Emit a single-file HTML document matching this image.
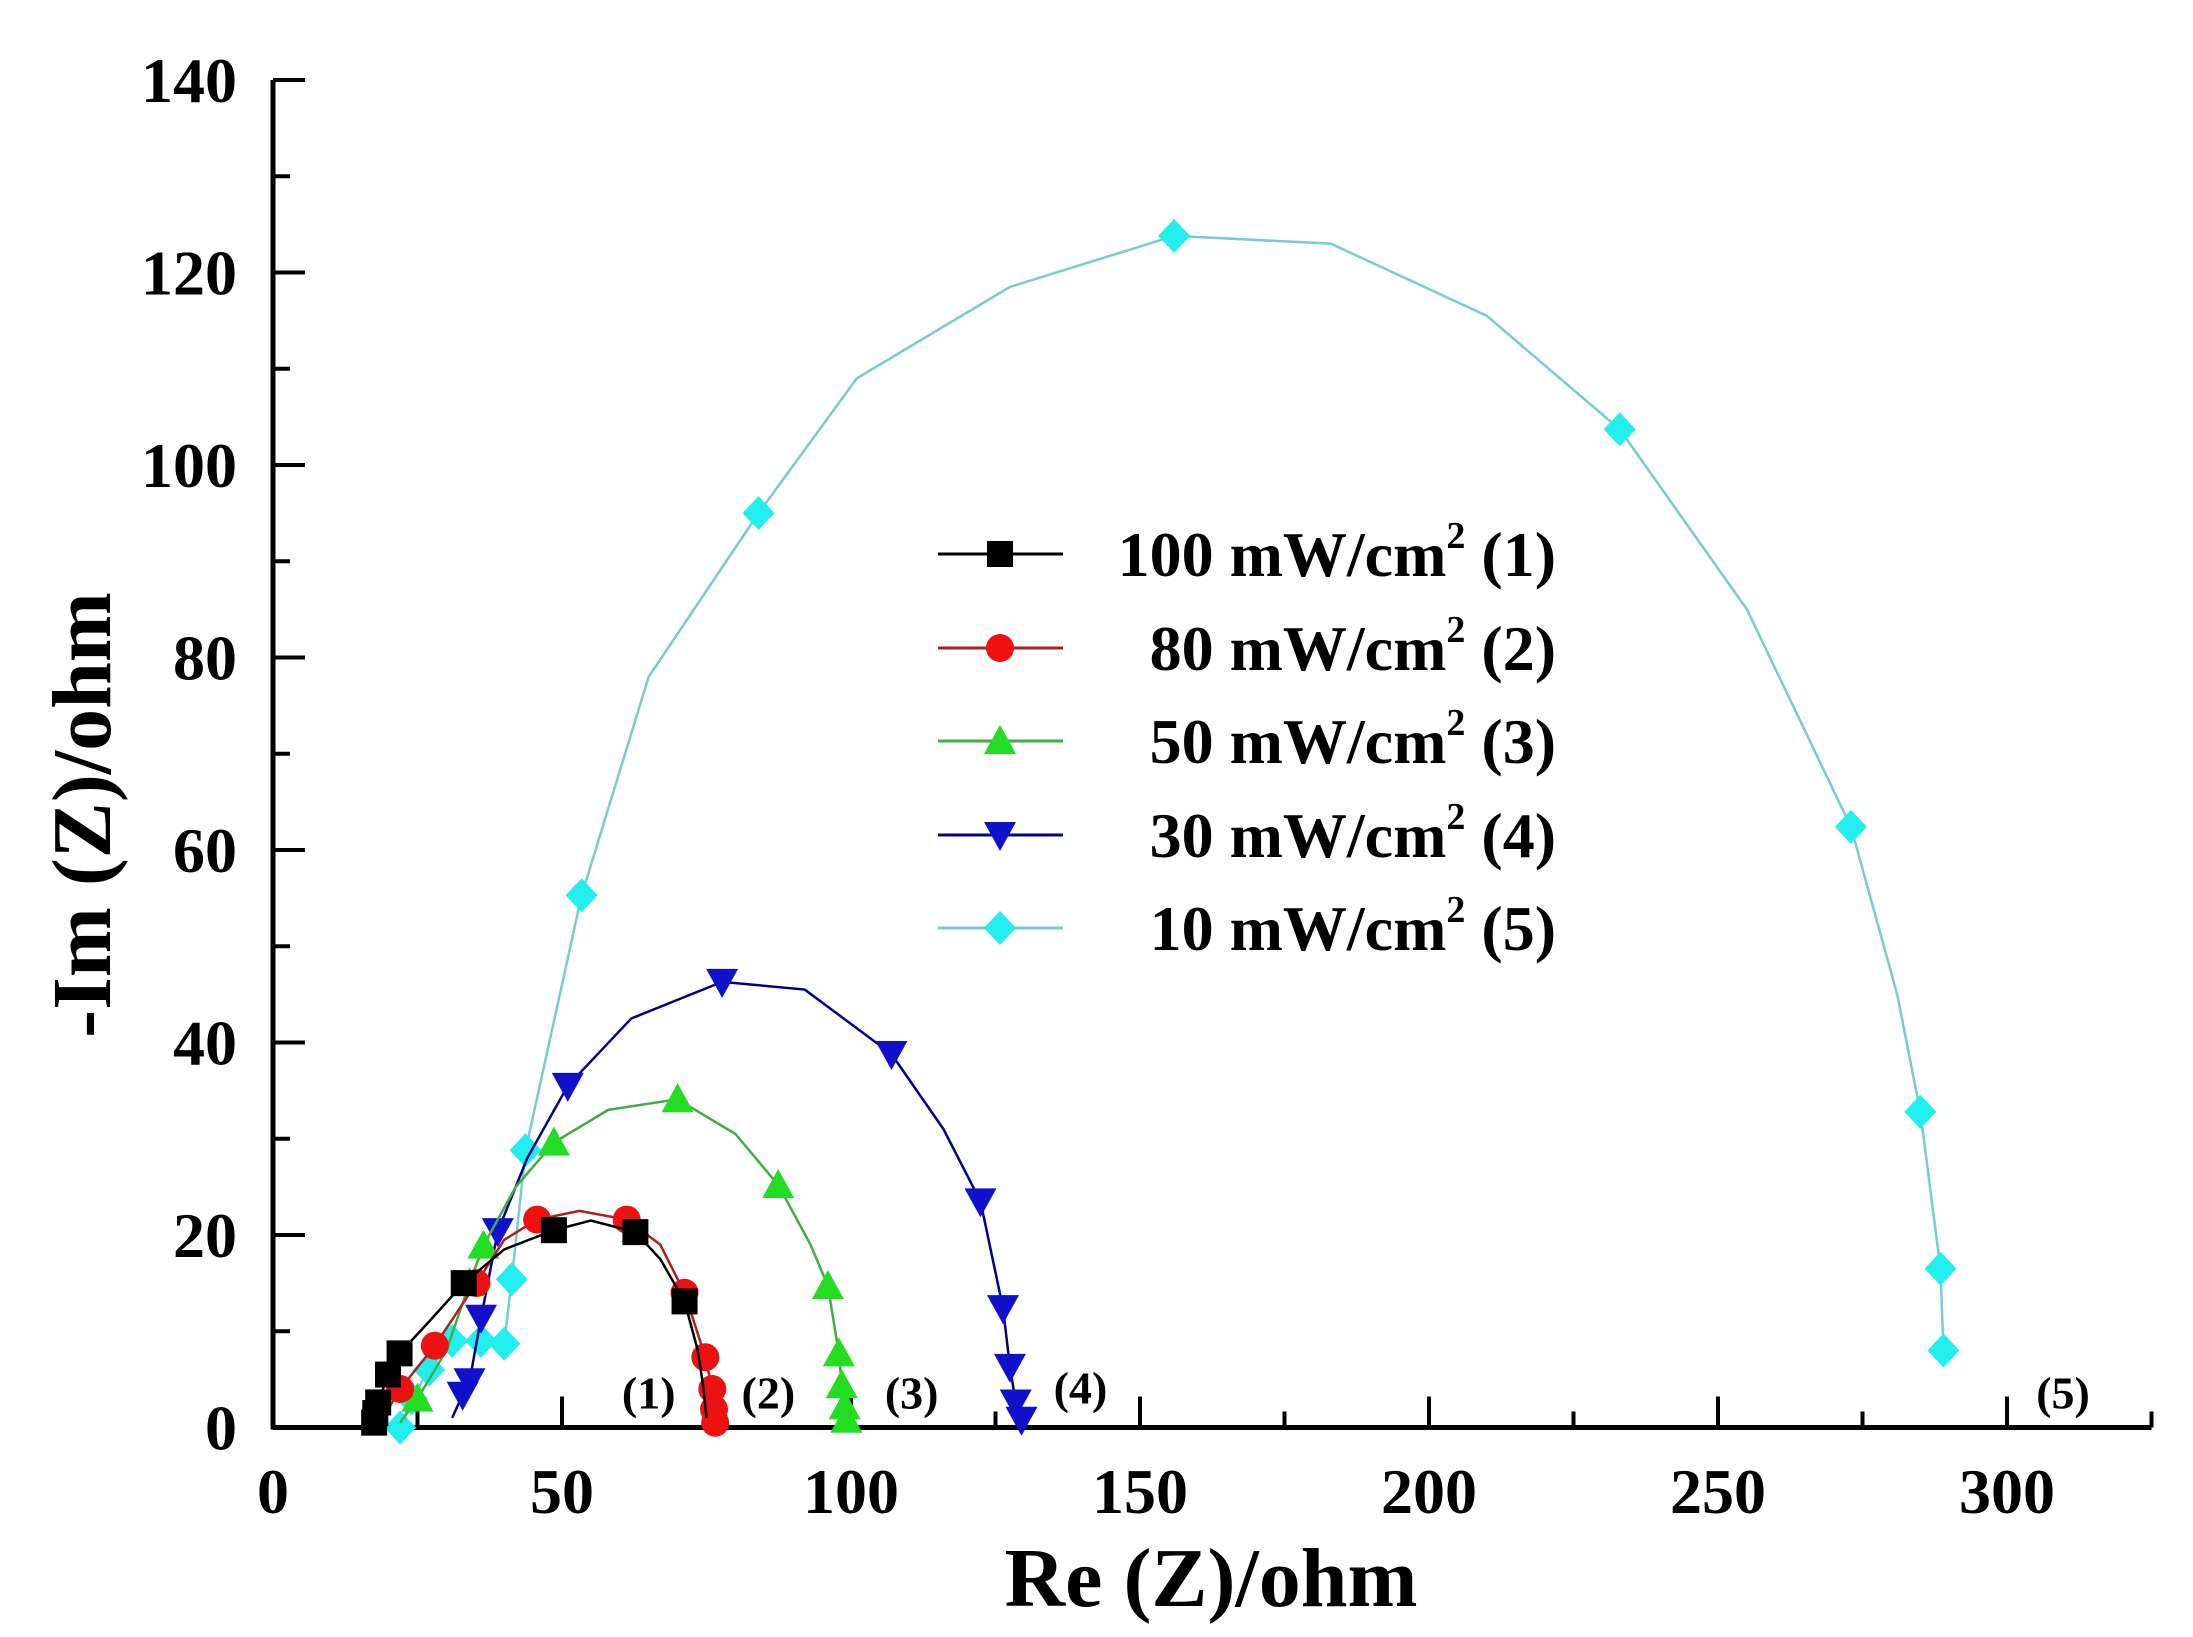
<!DOCTYPE html>
<html><head><meta charset="utf-8"><style>
html,body{margin:0;padding:0;background:#fff;}
svg{display:block;font-family:"Liberation Serif",serif;font-weight:bold;}
</style></head><body>
<svg id="chart" width="2193" height="1637" viewBox="0 0 2193 1637" xmlns="http://www.w3.org/2000/svg">
<g id="axes"></g>
<g id="plot"></g>
<g id="legend"></g>
<text x="1211" y="1606" font-size="84" text-anchor="middle">Re (Z)/ohm</text>
<text transform="translate(110,815) rotate(-90)" font-size="84" text-anchor="middle">-Im (Z)/ohm</text>
</svg>
<script>
const xTicks = [0,50,100,150,200,250,300];
const yTicks = [0,20,40,60,80,100,120,140];
const seriesNames = ["100 mW/cm","80 mW/cm","50 mW/cm","30 mW/cm","10 mW/cm"];
const seriesTags = ["(1)","(2)","(3)","(4)","(5)"];
const s1x = [17.5,17.7,18.2,19.9,21.9,27,33,40,48.6,55,62.7,67,71.2,73.5,74.5,75];
const s1y = [0.5,1.5,2.6,5.5,7.7,11,15,18.5,20.5,21.5,20.3,17.5,13.1,8,4,1];
const s1m = [1,1,1,1,1,0,1,0,1,0,1,0,1,0,0,0];
const s2x = [19,22,28,35.2,40,45.7,53,61.2,67,71.2,74.8,76,76.3,76.5];
const s2y = [1,4,8.5,15,19.5,21.6,22.5,21.6,19,14,7.3,4,1.9,0.5];
const s2m = [0,1,1,1,0,1,0,1,0,1,1,1,1,1];
const s3x = [22,25,30,34,36.4,42,48.6,58,70,80,87.4,93,96,97.9,98.4,98.9,99.2];
const s3y = [0.5,3,8,15,18.9,25,29.6,33,34.1,30.5,25.2,19,14.7,7.7,4.4,2.2,0.8];
const s3m = [0,1,0,1,1,0,1,0,1,0,1,0,1,1,1,1,1];
const s4x = [31,32.8,34,36,38.9,44,51,62,77.7,92,107,116,122.4,126.3,127.5,128.5,129.5];
const s4y = [1,3.4,4.8,11.4,20.4,28,35.5,42.5,46.3,45.5,38.8,31,23.5,12.4,6.3,2.6,0.8];
const s4m = [0,1,1,1,1,0,1,0,1,0,1,0,1,1,1,1,1];
const s5x = [22,24,27,31,36,40,41.3,43.7,53.4,65,84,101,127.5,155.9,183,210,233,255,273,281,285,288.5,289];
const s5y = [0,3,6,9,9,8.7,15.4,28.8,55.3,78,95,109,118.5,123.8,123,115.5,103.7,85,62.4,45,32.8,16.5,8];
const s5m = [1,1,1,1,1,1,1,1,1,0,1,0,0,1,0,0,1,0,1,0,1,1,1];
const tagX = [65,85.7,110.5,139.7,309.7];
const tagY = [2,2,2,2.5,2];

const NS="http://www.w3.org/2000/svg";
const X0=273, Y0=1427.5, PX=5.78, PY=9.625;
function sx(v){return X0+v*PX;}
function sy(v){return Y0-v*PY;}
function mk(tag,attrs,parent){const e=document.createElementNS(NS,tag);for(const k in attrs)e.setAttribute(k,attrs[k]);parent.appendChild(e);return e;}
const axes=document.getElementById('axes'),plot=document.getElementById('plot'),legend=document.getElementById('legend');

let ax=mk('line',{x1:sx(0),y1:sy(0),x2:sx(325),y2:sy(0),stroke:'#000','stroke-width':5},axes);


let ay=mk('line',{x1:sx(0),y1:sy(0)+2,x2:sx(0),y2:sy(140),stroke:'#000','stroke-width':5},axes);


for(let v=0;v<=325;v+=25){
  const major=v%50===0;
  const t=mk('line',{x1:sx(v),y1:sy(0),x2:sx(v),y2:sy(0)-(major?31:16),stroke:'#000','stroke-width':4},axes);
  
  
}
xTicks.forEach(v=>{
  const t=mk('text',{x:sx(v),y:1513,'font-size':64,'text-anchor':'middle'},axes);t.textContent=v;
  
  
});
for(let v=0;v<=140;v+=10){
  const major=v%20===0;
  const t=mk('line',{x1:sx(0),y1:sy(v),x2:sx(0)+(major?32:17),y2:sy(v),stroke:'#000','stroke-width':4},axes);
  
  
}
yTicks.forEach(v=>{
  const t=mk('text',{x:237,y:sy(v)+22,'font-size':64,'text-anchor':'end'},axes);t.textContent=v;
  
  
});

const colors=['#000000','#ee1111','#22dd22','#1111cc','#22eeee'];
const lineColors=['#000000','#aa2222','#44aa44','#000088','#77cccc'];
const shapes=['square','circle','up','down','diamond'];
const SX=[s1x,s2x,s3x,s4x,s5x],SY=[s1y,s2y,s3y,s4y,s5y],SM=[s1m,s2m,s3m,s4m,s5m];
function marker(shape,cx,cy,col,parent){
  const r=13;let e;
  if(shape==='square') e=mk('rect',{x:cx-r,y:cy-r,width:2*r,height:2*r,fill:col},parent);
  else if(shape==='circle') e=mk('circle',{cx:cx,cy:cy,r:r+1,fill:col},parent);
  else if(shape==='up') e=mk('polygon',{points:`${cx},${cy-r-3} ${cx+r+3},${cy+r} ${cx-r-3},${cy+r}`,fill:col},parent);
  else if(shape==='down') e=mk('polygon',{points:`${cx-r-3},${cy-r} ${cx+r+3},${cy-r} ${cx},${cy+r+3}`,fill:col},parent);
  else e=mk('polygon',{points:`${cx},${cy-r-4} ${cx+r+3},${cy} ${cx},${cy+r+4} ${cx-r-3},${cy}`,fill:col},parent);
  return e;
}
for(let s=4;s>=0;s--){
  const g=mk('g',{},plot);
  
  
  const pts=SX[s].map((x,i)=>sx(x)+','+sy(SY[s][i])).join(' ');
  const pl=mk('polyline',{points:pts,fill:'none',stroke:lineColors[s],'stroke-width':2.5},g);
  
  
  SX[s].forEach((x,i)=>{ if(SM[s][i]){
    const m=marker(shapes[s],sx(x),sy(SY[s][i]),colors[s],g);
    
    
  }});
}
seriesTags.forEach((t,i)=>{
  const e=mk('text',{x:sx(tagX[i]),y:sy(tagY[i]),'font-size':46,'text-anchor':'middle'},plot);e.textContent=t;
  
  
});
const rowY=[554,648,741,835,928];
seriesNames.forEach((n,i)=>{
  const g=mk('g',{},legend);
  
  
  mk('line',{x1:938,y1:rowY[i],x2:1063,y2:rowY[i],stroke:lineColors[i],'stroke-width':3},g);
  marker(shapes[i],1000,rowY[i],colors[i],g);
  const t=mk('text',{x:1556,y:rowY[i]+22,'font-size':64,'text-anchor':'end'},g);
  const a=mk('tspan',{},t);a.textContent=n;
  const b=mk('tspan',{dy:-28,'font-size':38},t);b.textContent='2';
  const c=mk('tspan',{dy:28},t);c.textContent=' '+seriesTags[i];
});
</script>
</body></html>
